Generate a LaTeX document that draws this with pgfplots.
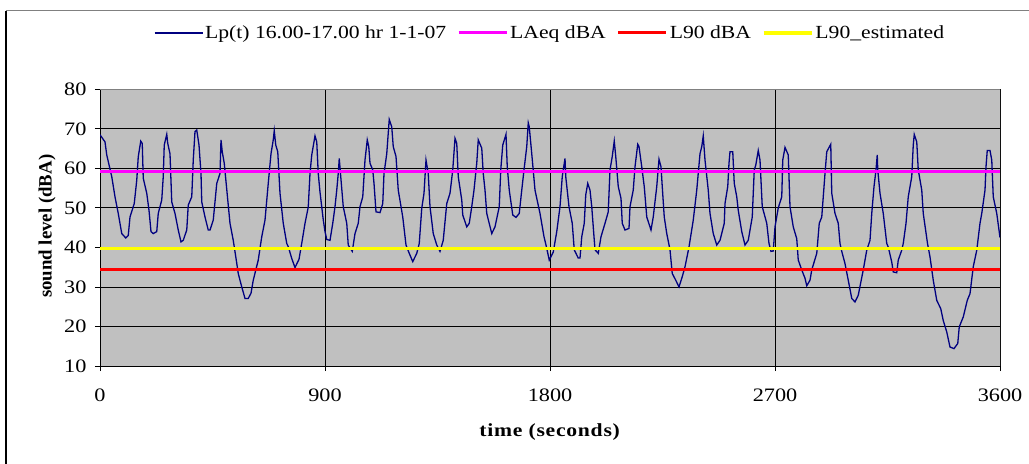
\documentclass[border=0pt]{standalone}
\usepackage{pgfplots}
\pgfplotsset{compat=1.18}
\usepackage{pgfplotstable}
\usepackage{fontspec}
\setmainfont{Liberation Serif}[FakeStretch=1.17]
\newfontfamily\ylabfont{Liberation Serif}
\definecolor{plotgray}{HTML}{C0C0C0}
\definecolor{bordergray}{HTML}{808080}
\definecolor{navy}{HTML}{000080}
\definecolor{lmag}{HTML}{FF00FF}
\definecolor{lred}{HTML}{FF0000}
\definecolor{lyel}{HTML}{FFFF00}
\pgfplotstableread{
t L
0 68.5
20 66.7
27 63.4
47 57.9
60 52.8
73 48.6
87 43.5
103 42.4
113 43.0
120 47.7
137 51.1
147 57.0
153 62.9
163 66.9
169 66.3
173 57.5
187 53.7
196 49.4
204 44.0
213 43.5
227 44.0
233 48.6
247 52.0
253 57.9
257 65.9
267 68.6
271 66.3
280 63.7
287 51.5
300 48.6
313 44.4
324 41.4
333 41.8
347 44.4
353 50.7
367 52.8
373 62.1
380 69.3
387 69.7
396 65.9
404 58.7
407 51.5
420 47.7
433 44.4
440 44.4
453 46.9
467 56.2
480 58.7
484 67.2
489 64.2
497 61.3
513 50.7
520 46.1
533 41.8
547 36.0
553 33.4
567 30.0
580 27.1
593 27.1
604 28.4
613 31.7
633 36.8
647 42.7
660 46.9
673 56.2
684 63.7
693 67.2
697 69.5
703 65.9
711 64.2
720 53.7
733 46.1
747 41.0
753 40.2
767 37.2
780 34.9
796 37.0
809 41.8
820 46.1
833 50.2
840 58.7
847 63.4
860 68.2
867 66.7
873 58.7
880 54.0
893 47.0
900 44.0
907 42.0
920 41.8
931 46.1
940 50.3
947 54.5
953 58.7
957 62.5
963 57.9
973 50.3
987 46.1
993 40.6
1009 39.0
1020 43.5
1033 46.1
1040 50.3
1051 52.8
1060 62.1
1069 67.2
1075 65.5
1080 61.3
1091 59.6
1096 56.2
1104 49.0
1120 48.8
1131 51.1
1136 58.7
1147 63.7
1157 72.4
1167 70.5
1173 65.5
1184 63.0
1193 54.5
1211 47.7
1224 40.6
1237 38.5
1251 36.4
1267 38.5
1277 41.0
1287 49.9
1296 53.7
1304 62.1
1313 58.7
1320 50.3
1333 43.5
1347 40.6
1360 39.0
1373 41.8
1387 51.1
1400 53.7
1411 59.6
1420 67.6
1427 66.3
1433 57.9
1447 52.0
1451 48.2
1467 45.2
1477 46.1
1487 50.3
1496 54.5
1507 61.3
1513 67.2
1527 65.1
1533 58.7
1540 54.5
1547 48.6
1567 43.5
1580 45.2
1597 50.3
1603 59.6
1611 65.9
1624 68.6
1629 60.4
1637 54.5
1651 48.2
1664 47.6
1677 48.6
1687 54.5
1696 59.6
1707 65.5
1713 71.5
1717 70.5
1727 63.7
1740 54.5
1760 48.6
1776 42.7
1784 40.6
1797 36.8
1813 38.8
1827 44.0
1840 50.3
1849 57.9
1860 62.5
1863 57.9
1876 50.3
1889 46.1
1897 39.4
1913 37.3
1920 37.3
1927 42.7
1937 46.1
1943 53.3
1951 56.2
1960 54.5
1967 50.3
1973 45.2
1980 39.4
1993 38.5
2004 42.7
2020 46.1
2033 49.0
2040 59.6
2049 63.0
2057 66.9
2063 63.0
2073 55.4
2084 52.4
2089 46.1
2100 44.4
2116 44.8
2120 50.3
2133 54.5
2140 60.4
2151 66.1
2156 65.5
2167 60.4
2177 55.4
2187 47.7
2204 44.4
2213 47.7
2227 55.4
2236 62.3
2244 60.4
2249 55.4
2257 47.7
2267 43.5
2280 39.4
2289 33.4
2303 31.7
2316 30.0
2329 32.6
2340 35.1
2356 40.1
2373 46.9
2387 54.5
2400 63.7
2407 65.5
2413 68.2
2420 62.1
2433 54.5
2440 48.6
2453 43.5
2467 40.6
2480 41.8
2497 46.1
2500 51.1
2511 55.4
2516 61.3
2520 64.2
2531 64.2
2537 56.2
2547 52.8
2553 49.4
2567 44.0
2580 40.6
2593 41.8
2609 47.7
2617 59.6
2623 60.8
2633 64.5
2640 62.1
2649 50.3
2667 46.1
2676 41.0
2684 39.0
2693 39.1
2700 45.2
2713 50.0
2727 52.8
2731 62.1
2740 65.3
2753 63.4
2760 50.3
2773 45.2
2787 42.2
2793 36.8
2807 34.3
2820 32.2
2827 30.3
2840 31.7
2847 34.3
2867 38.5
2877 46.1
2887 47.7
2900 58.7
2907 64.2
2923 66.1
2927 53.7
2940 48.6
2953 46.1
2960 41.0
2967 39.0
2980 35.9
2993 31.7
3007 27.1
3020 26.2
3033 27.9
3053 34.3
3067 39.3
3080 41.8
3087 48.6
3096 55.4
3104 59.6
3109 63.4
3111 59.6
3120 53.7
3133 48.6
3147 41.0
3153 40.1
3167 36.3
3173 33.8
3187 33.6
3193 36.8
3207 39.3
3213 41.0
3224 46.1
3233 52.8
3247 57.9
3253 65.9
3257 68.6
3267 66.7
3273 59.6
3287 54.5
3293 48.6
3310 41.0
3320 37.6
3333 31.7
3347 26.6
3363 24.5
3373 21.5
3387 18.6
3400 14.8
3416 14.4
3431 15.7
3437 19.9
3453 22.4
3469 26.6
3480 28.3
3493 35.1
3507 39.3
3520 46.1
3527 48.6
3540 54.5
3544 60.4
3549 64.5
3560 64.5
3567 62.1
3573 52.8
3587 48.6
3600 42.5
}\lpdata
\begin{document}
\begin{tikzpicture}
\useasboundingbox (0,0) rectangle (1029bp,464bp);
\fill[white] (0,0) rectangle (1029bp,464bp);
\draw[black, line width=2bp] (6bp,0) -- (6bp,453bp);
\draw[bordergray, line width=1bp] (6bp,453bp) -- (1029bp,453bp);
\begin{axis}[
  at={(100bp,98bp)}, anchor=south west,
  scale only axis, width=900bp, height=276.7bp,
  xmin=0, xmax=3600, ymin=10, ymax=80,
  xtick={0,900,1800,2700,3600}, ytick={10,20,30,40,50,60,70,80},
  axis x line*=bottom, axis y line*=left,
  axis line style={black, line width=1bp},
  tick align=outside, major tick length=5bp,
  tick style={black, line width=0.8bp},
  xmajorgrids, ymajorgrids,
  major grid style={black, line width=0.8bp},
  axis background/.style={fill=plotgray},
  /pgf/number format/assume math mode=true,
  /pgf/number format/1000 sep={},
  xticklabel style={font=\fontsize{19bp}{22bp}\selectfont, yshift=-14bp},
  yticklabel style={font=\fontsize{19bp}{22bp}\selectfont, xshift=-5bp},
  xlabel={\textbf{\addfontfeatures{LetterSpace=4}time (seconds)}},
  xlabel style={at={(axis description cs:0.5,-0.2385)}, anchor=center, font=\fontsize{18.5bp}{22bp}\selectfont},
  ylabel={\ylabfont\bfseries sound level (dBA)},
  ylabel style={at={(axis description cs:-0.0589,0.505)}, anchor=center, font=\fontsize{18.8bp}{22bp}\selectfont},
  legend columns=4,
  legend style={at={(0.5,1.2035)}, anchor=center, draw=none, fill=none,
    font=\fontsize{18.5bp}{22bp}\selectfont,
    /tikz/every even column/.append style={column sep=9bp}},
  legend image code/.code={\draw[#1] (0bp,0bp) -- (48bp,0bp);},
]
\addplot[navy, line width=1.3bp, mark=none] table[x=t, y=L] {\lpdata};
\addlegendentry{Lp(t) 16.00-17.00 hr 1-1-07}
\addplot[lmag, line width=3bp, mark=none] coordinates {(0,59.2) (3600,59.2)};
\addlegendentry{LAeq dBA}
\addplot[lred, line width=3bp, mark=none] coordinates {(0,34.3) (3600,34.3)};
\addlegendentry{L90 dBA}
\addplot[lyel, line width=3.5bp, mark=none] coordinates {(0,39.7) (3600,39.7)};
\addlegendentry{L90\_estimated}
\draw[bordergray, line width=1bp] (axis cs:0,80) -- (axis cs:3600,80) -- (axis cs:3600,10);
\end{axis}
\end{tikzpicture}
\end{document}
